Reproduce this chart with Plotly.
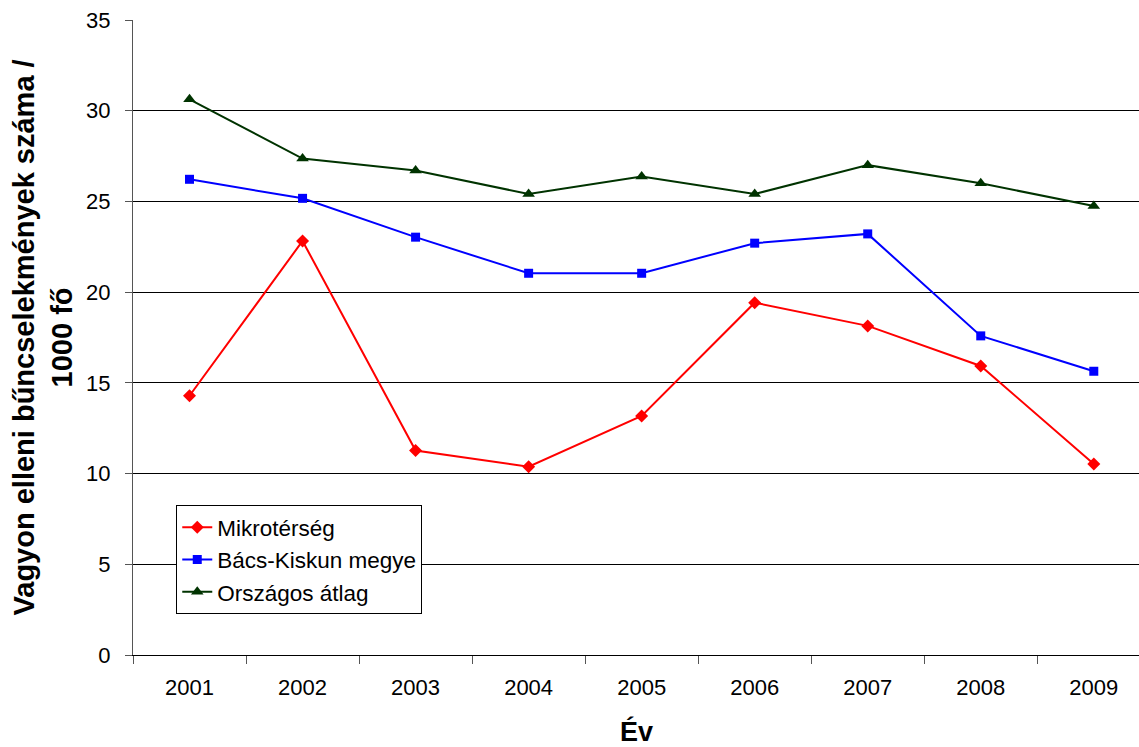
import plotly.graph_objects as go

years = ["2001", "2002", "2003", "2004", "2005", "2006", "2007", "2008", "2009"]
mikroterseg = [14.29, 22.82, 11.27, 10.38, 13.18, 19.42, 18.14, 15.93, 10.53]
bacs_kiskun = [26.22, 25.17, 23.03, 21.04, 21.04, 22.70, 23.21, 17.59, 15.64]
orszagos = [30.63, 27.36, 26.70, 25.41, 26.37, 25.41, 27.00, 26.00, 24.75]

FONT = "Liberation Sans, Arial, sans-serif"

fig = go.Figure()
fig.add_trace(go.Scatter(
    x=years, y=mikroterseg, name="Mikrotérség", mode="lines+markers",
    line=dict(color="#FF0000", width=2),
    marker=dict(symbol="diamond", size=10, color="#FF0000"),
))
fig.add_trace(go.Scatter(
    x=years, y=bacs_kiskun, name="Bács-Kiskun megye", mode="lines+markers",
    line=dict(color="#0000FF", width=2),
    marker=dict(symbol="square", size=9, color="#0000FF"),
))
fig.add_trace(go.Scatter(
    x=years, y=orszagos, name="Országos átlag", mode="lines+markers",
    line=dict(color="#003300", width=2),
    marker=dict(symbol="triangle-up", size=11, color="#003300"),
))

fig.update_layout(
    width=1139, height=747,
    margin=dict(l=133, r=0, t=20, b=92),
    paper_bgcolor="white", plot_bgcolor="white",
    font=dict(family=FONT, size=21, color="#000000"),
    showlegend=True,
    legend=dict(
        x=0.043, y=0.236, xanchor="left", yanchor="top",
        bgcolor="white", bordercolor="#000000", borderwidth=1,
        font=dict(family=FONT, size=22.5, color="#000000"),
        tracegroupgap=0,
    ),
    xaxis=dict(
        type="category", range=[-0.5, 8.4],
        tickson="boundaries", ticks="outside", ticklen=8, tickcolor="#555555",
        showline=True, linecolor="#000000", linewidth=1,
        showgrid=False, ticklabelstandoff=13,
        tickfont=dict(size=22),
    ),
    yaxis=dict(
        range=[0, 35], dtick=5, tick0=0,
        ticks="outside", ticklen=7, tickcolor="#555555",
        showline=True, linecolor="#555555", linewidth=1,
        showgrid=True, gridcolor="#000000", gridwidth=1,
        zeroline=False, ticklabelstandoff=10,
        tickfont=dict(size=22),
    ),
    annotations=[
        dict(
            text="<b>Vagyon elleni bűncselekmények száma /<br>1000 fő</b>",
            xref="paper", yref="paper", x=-0.0895, y=0.5,
            xanchor="center", yanchor="middle", textangle=-90,
            showarrow=False, font=dict(family=FONT, size=29),
        ),
        dict(
            text="<b>Év</b>",
            xref="paper", yref="paper", x=0.5, y=-0.093,
            xanchor="center", yanchor="top",
            showarrow=False, font=dict(family=FONT, size=27),
        ),
    ],
)

fig.write_html("out.html")
